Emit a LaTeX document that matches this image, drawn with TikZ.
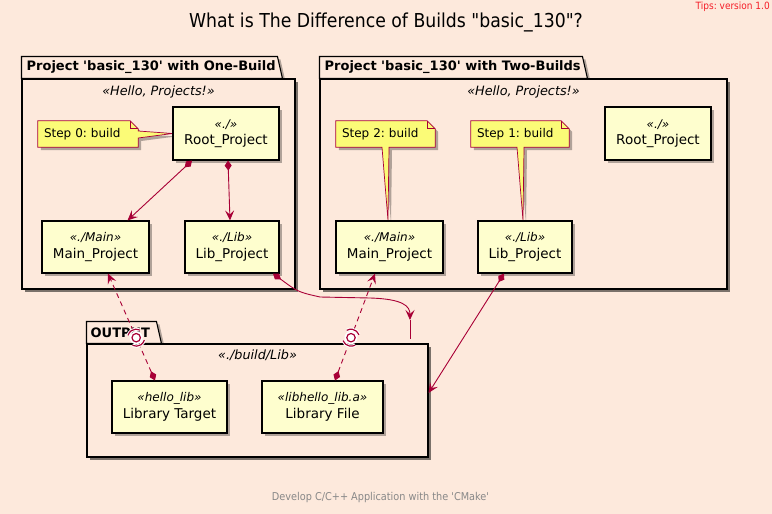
\documentclass[tikz,border=0pt]{standalone}
\usepackage{fontspec}
\setmainfont{DejaVu Sans}
\newfontfamily\condfont{DejaVu Sans Condensed}
\usetikzlibrary{arrows.meta,shadows,calc}
\definecolor{bgc}{RGB}{253,233,220}
\definecolor{boxfill}{HTML}{FEFECE}
\definecolor{notefill}{HTML}{FBFB77}
\definecolor{plred}{HTML}{A80036}
\definecolor{tipred}{RGB}{245,30,40}
\definecolor{footgray}{HTML}{888888}
\pgfdeclarelayer{back}
\pgfdeclarelayer{mid}
\pgfsetlayers{back,mid,main}
\frenchspacing
\newcommand\stereo[1]{{\fontsize{12}{14}\selectfont\itshape «#1»}}
\tikzset{
  shad/.style={drop shadow={shadow xshift=3pt, shadow yshift=-3pt, opacity=0.3, fill=black}},
  box/.style={draw=black, line width=1.1pt, fill=boxfill, shad, align=center, inner sep=0pt,
    font=\fontsize{13.5}{16.5}\selectfont},
  pkg/.style={draw=black, line width=1.1pt, fill=bgc, shad, inner sep=0pt},
  pkgtab/.style={draw=black, line width=1.1pt, fill=bgc, shad},
  tablabel/.style={anchor=west, inner sep=0pt, font=\fontsize{13}{15}\selectfont\bfseries},
  pkgstereo/.style={anchor=north, inner sep=0pt, font=\fontsize{12.8}{14}\selectfont\itshape},
  notetext/.style={inner xsep=6pt, inner ysep=0pt, text width=#1, align=left, minimum height=26pt,
    font=\fontsize{12}{14}\selectfont},
  noteshape/.style={draw=plred, line width=0.7pt, fill=notefill, shad},
  conn/.style={draw=plred, line width=0.9pt},
  dashconn/.style={conn, dash pattern=on 5pt off 4pt},
}
\newcommand\ballsock[2]{%
  \fill[white] (#1) circle[radius=6.5pt];
  \draw[plred, line width=1.2pt] (#1) circle[radius=4.2pt];
  \draw[white, line width=3.2pt] ([shift={(#2-50:8.5pt)}]#1) arc[start angle=#2-50, end angle=#2+50, radius=8.5pt];
  \draw[white, line width=3.2pt] ([shift={(#2+130:8.5pt)}]#1) arc[start angle=#2+130, end angle=#2+230, radius=8.5pt];
  \draw[plred, line width=1.2pt] ([shift={(#2-50:8.5pt)}]#1) arc[start angle=#2-50, end angle=#2+50, radius=8.5pt];
  \draw[plred, line width=1.2pt] ([shift={(#2+130:8.5pt)}]#1) arc[start angle=#2+130, end angle=#2+230, radius=8.5pt];
}
\begin{document}
\begin{tikzpicture}[x=1pt,y=1pt,
  dia/.tip={Diamond[length=10pt,width=7pt]},
  hd/.tip={Stealth[length=10pt,width=9pt,inset=4pt]}]
\useasboundingbox (0,0) rectangle (772,-514);
\begin{pgfonlayer}{back}
\fill[bgc] (0,0) rectangle (772,-514);
% packages
\node[pkg, minimum width=273pt, minimum height=210pt] (pkgA) at (158.5,-184) {};
\draw[pkgtab] (pkgA.north west) -- ++(0,22) -- ++(256,0) -- ++(5,-22) -- cycle;
\node[pkg, minimum width=273pt, minimum height=210pt] (pkgA2) at (158.5,-184) {};
\node[tablabel] (tabA) at ([xshift=5pt,yshift=11pt]pkgA.north west) {Project \textquotesingle basic\_130\textquotesingle{} with One-Build};
\node[pkgstereo] (stA) at ([yshift=-7pt]pkgA.north) {«Hello, Projects!»};

\node[pkg, minimum width=407pt, minimum height=210pt] (pkgB) at (523.5,-184) {};
\draw[pkgtab] (pkgB.north west) -- ++(0,22) -- ++(263,0) -- ++(5,-22) -- cycle;
\node[pkg, minimum width=407pt, minimum height=210pt] (pkgB2) at (523.5,-184) {};
\node[tablabel] (tabB) at ([xshift=5pt,yshift=11pt]pkgB.north west) {Project \textquotesingle basic\_130\textquotesingle{} with Two-Builds};
\node[pkgstereo] (stB) at ([yshift=-7pt]pkgB.north) {«Hello, Projects!»};

\node[pkg, minimum width=341pt, minimum height=113pt] (out) at (257.5,-400.5) {};
\draw[pkgtab] (out.north west) -- ++(0,22) -- ++(70,0) -- ++(5,-22) -- cycle;
\node[pkg, minimum width=341pt, minimum height=113pt] (out2) at (257.5,-400.5) {};
\node[tablabel] (tabO) at ([xshift=4pt,yshift=11pt]out.north west) {OUTPUT};
\node[pkgstereo] (stO) at ([yshift=-6pt]out.north) {«./build/Lib»};
\end{pgfonlayer}

% boxes
\node[box, minimum width=106pt, minimum height=53pt] (root1) at (226,-133.5) {\stereo{./}\\Root\_Project};
\node[box, minimum width=107pt, minimum height=52pt] (main1) at (95.5,-247) {\stereo{./Main}\\Main\_Project};
\node[box, minimum width=94pt, minimum height=52pt] (lib1) at (232,-247) {\stereo{./Lib}\\Lib\_Project};
\node[box, minimum width=107pt, minimum height=52pt] (main2) at (389.5,-247) {\stereo{./Main}\\Main\_Project};
\node[box, minimum width=94pt, minimum height=52pt] (lib2) at (525,-247) {\stereo{./Lib}\\Lib\_Project};
\node[box, minimum width=106pt, minimum height=53pt] (root2) at (658,-133.5) {\stereo{./}\\Root\_Project};
\node[box, minimum width=115pt, minimum height=52pt] (lt) at (169.5,-407) {\stereo{hello\_lib}\\Library Target};
\node[box, minimum width=121pt, minimum height=52pt] (lf) at (322.5,-407) {\stereo{libhello\_lib.a}\\Library File};

% notes
\node[notetext=88pt] (n0) at (88,-134) {Step 0: build};
\node[notetext=87pt] (n2) at (385.5,-134) {Step 2: build};
\node[notetext=86pt] (n1) at (520,-134) {Step 1: build};
\begin{pgfonlayer}{mid}
\path[noteshape] (n0.south west) -- (n0.north west) -- ([xshift=-8pt]n0.north east) -- ([yshift=-8pt]n0.north east)
  -- ([yshift=3pt]n0.east) -- (root1.west) -- ([yshift=-4pt]n0.east) -- (n0.south east) -- cycle;
\draw[plred, line width=0.7pt] ([xshift=-8pt]n0.north east) -- ([xshift=-8pt,yshift=-8pt]n0.north east) -- ([yshift=-8pt]n0.north east);
\path[noteshape] (n2.south west) -- (n2.north west) -- ([xshift=-8pt]n2.north east) -- ([yshift=-8pt]n2.north east)
  -- (n2.south east) -- ([xshift=3.5pt]n2.south) -- ([xshift=-1.5pt]main2.north) -- ([xshift=-3.5pt]n2.south) -- cycle;
\draw[plred, line width=0.7pt] ([xshift=-8pt]n2.north east) -- ([xshift=-8pt,yshift=-8pt]n2.north east) -- ([yshift=-8pt]n2.north east);
\path[noteshape] (n1.south west) -- (n1.north west) -- ([xshift=-8pt]n1.north east) -- ([yshift=-8pt]n1.north east)
  -- (n1.south east) -- ([xshift=4pt]n1.south) -- ([xshift=-2pt]lib2.north) -- ([xshift=-3pt]n1.south) -- cycle;
\draw[plred, line width=0.7pt] ([xshift=-8pt]n1.north east) -- ([xshift=-8pt,yshift=-8pt]n1.north east) -- ([yshift=-8pt]n1.north east);
\end{pgfonlayer}

% connectors
\draw[conn, {dia[fill=plred]}-{hd[fill=plred]}] ([xshift=-34pt]root1.south) -- ([xshift=32pt]main1.north);
\draw[conn, {dia[fill=plred]}-{hd[fill=plred]}] ([xshift=2pt]root1.south) -- ([xshift=-2pt]lib1.north);
\draw[dashconn, {dia[fill=plred]}-{hd[fill=plred]}] ([xshift=-14.5pt]lt.north) -- coordinate[pos=0.4] (c1) ([xshift=12.5pt]main1.south);
\draw[dashconn, {dia[fill=plred]}-{hd[fill=plred]}] ([xshift=12.5pt]lf.north) -- coordinate[pos=0.4] (c2) ([xshift=-14.5pt]main2.south);
\ballsock{c1}{114}
\ballsock{c2}{70}
\coordinate (oarr) at (410,-320);
\coordinate (otail) at (410,-339);
\draw[conn, {dia[fill=plred]}-{hd[fill=plred]}] ([xshift=41pt]lib1.south) .. controls (298,-292) .. (320,-297)
  -- (370,-298) .. controls (403,-299) and (410,-306) .. (oarr);
\draw[conn] (oarr) -- (otail);
\draw[conn, {dia[fill=plred]}-{hd[fill=plred]}] ([xshift=-21pt]lib2.south) -- ([yshift=7.5pt]out.east);

% titles
\node[font=\condfont\fontsize{19.2}{22}\selectfont] (title) at (386,-22) {What is The Difference of Builds "basic\_130"?};
\node[font=\condfont\fontsize{10}{12}\selectfont, text=tipred, anchor=north east, inner sep=0pt] (tips) at (770,-2) {Tips: version 1.0};
\node[font=\condfont\fontsize{10.8}{12}\selectfont, text=footgray] (foot) at (380.5,-498) {Develop C/C++ Application with the \textquotesingle CMake\textquotesingle};
\end{tikzpicture}
\end{document}
